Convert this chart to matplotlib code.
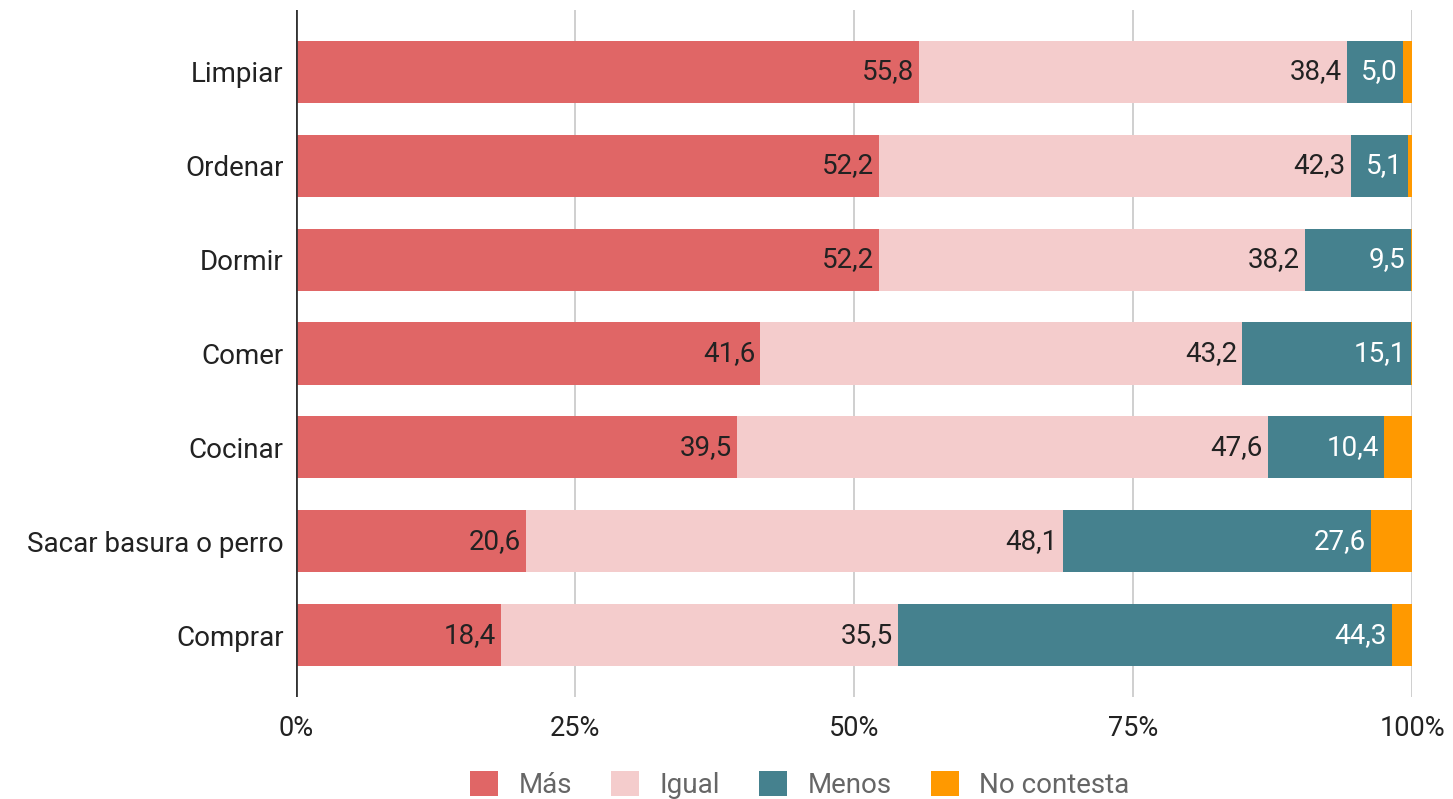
import matplotlib
matplotlib.use("Agg")
import matplotlib.pyplot as plt
import numpy as np

plt.rcParams['font.family'] = ['Roboto', 'DejaVu Sans']

categories = ["Limpiar", "Ordenar", "Dormir", "Comer", "Cocinar",
              "Sacar basura o perro", "Comprar"]
mas = [55.8, 52.2, 52.2, 41.6, 39.5, 20.6, 18.4]
igual = [38.4, 42.3, 38.2, 43.2, 47.6, 48.1, 35.5]
menos = [5.0, 5.1, 9.5, 15.1, 10.4, 27.6, 44.3]
no_contesta = [0.8, 0.4, 0.1, 0.1, 2.5, 3.7, 1.8]

series_names = ["Más", "Igual", "Menos", "No contesta"]
colors = ["#e06666", "#f4cccc", "#45818e", "#ff9900"]
label_colors = ["#222222", "#222222", "#ffffff", None]

fig = plt.figure(figsize=(14.53, 7.99), dpi=100)
ax = fig.add_axes([296/1453, 1 - 697/799, (1412-296)/1453, (697-10)/799])

series = [np.array(mas), np.array(igual), np.array(menos), np.array(no_contesta)]
totals = sum(series)
y = np.arange(len(categories))
left = np.zeros(len(categories))
for vals, name, col, lc in zip(series, series_names, colors, label_colors):
    frac = vals / totals * 100
    ax.barh(y, frac, left=left, height=0.66, color=col, label=name,
            edgecolor='none', zorder=3)
    if lc is not None:
        for yi, (l, w, v) in enumerate(zip(left, frac, vals)):
            ax.text(l + w - 0.45, yi, f"{v:.1f}".replace(".", ","),
                    ha='right', va='center', color=lc, fontsize=20, zorder=4)
    left = left + frac

ax.set_xlim(0, 100)
ax.set_ylim(len(categories) - 1 + 0.655, -0.655)
ax.set_yticks(y)
ax.set_yticklabels(categories, fontsize=20, color="#222222")
ax.set_xticks([0, 25, 50, 75, 100])
ax.set_xticklabels(["0%", "25%", "50%", "75%", "100%"], fontsize=19.5,
                   color="#222222")
ax.tick_params(axis='both', length=0)
ax.tick_params(axis='y', pad=9)
ax.tick_params(axis='x', pad=13)
ax.xaxis.grid(True, color="#cccccc", linewidth=1.3, zorder=0)
ax.axvline(0, color="#333333", linewidth=2, zorder=5)
for s in ax.spines.values():
    s.set_visible(False)

leg = fig.legend(loc='center', bbox_to_anchor=(800/1453, 1 - 785/799),
                 ncol=4, frameon=False, fontsize=20, handlelength=1.0,
                 handleheight=1.0, columnspacing=1.4, handletextpad=0.75)
for t in leg.get_texts():
    t.set_color("#666666")

fig.savefig("out.png", dpi=100)
